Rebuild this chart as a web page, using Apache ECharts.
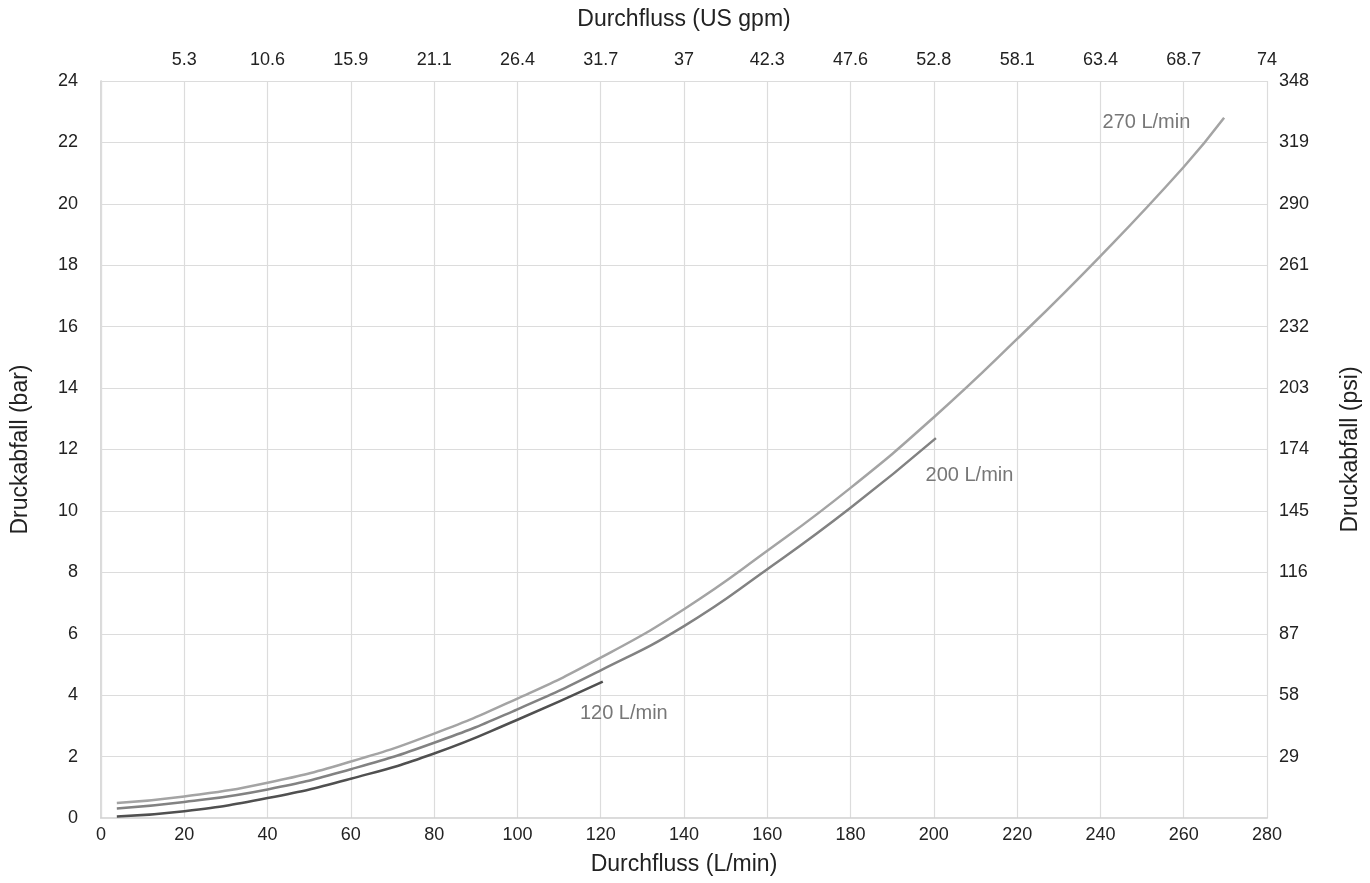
<!DOCTYPE html>
<html>
<head>
<meta charset="utf-8">
<script src="https://cdn.jsdelivr.net/npm/echarts@6/dist/echarts.min.js"></script>
<style>
  html, body { margin: 0; padding: 0; background: #fff; }
  #chart { width: 1370px; height: 883px; }
</style>
</head>
<body>
<div id="chart"></div>
<script>
// Druckabfall über Durchfluss, drei Baugrößen (120 / 200 / 270 L/min)

// Kurvenpunkte [L/min, bar]
const curve120 = [[3.8, 0.05], [20, 0.22], [40, 0.65], [60, 1.28], [80, 2.10], [100, 3.20], [120.5, 4.44]]
const curve200 = [[3.8, 0.31], [20, 0.52], [40, 0.93], [60, 1.59], [80, 2.45], [100, 3.54], [120, 4.81],
  [140, 6.25], [160, 8.10], [180, 10.10], [200.5, 12.37]]
const curve270 = [[3.8, 0.49], [20, 0.70], [40, 1.15], [60, 1.84], [80, 2.75], [100, 3.89], [120, 5.22],
  [140, 6.80], [160, 8.70], [180, 10.75], [200, 13.05], [220, 15.6], [240, 18.3], [260, 21.2], [269.7, 22.8]]

// Beschriftungen der Zweitachsen (Index = Tick-Nummer)
const gpmLabels = ['', '5.3', '10.6', '15.9', '21.1', '26.4', '31.7', '37', '42.3', '47.6', '52.8', '58.1', '63.4', '68.7', '74']
const psiLabels = ['', '29', '58', '87', '116', '145', '174', '203', '232', '261', '290', '319', '348']

const seriesNames = ['120 L/min', '200 L/min', '270 L/min']
// Position der Kurvenbeschriftung in Datenkoordinaten
const labelAt = [[115, 3.4], [198, 11.15], [240.5, 22.65]]

const FONT = '"Liberation Sans", Arial, sans-serif'
const GRID_COLOR = '#dcdcdc'
const AXIS_COLOR = '#cfcfcf'
const TEXT_COLOR = '#222'
const lineColors = ['#505050', '#828282', '#a4a4a4']

const chart = echarts.init(document.getElementById('chart'), null, { renderer: 'canvas' })

function curveSeries(i, data) {
  return {
    name: seriesNames[i],
    type: 'line',
    data: data,
    smooth: true,
    showSymbol: false,
    symbol: 'none',
    lineStyle: { color: lineColors[i], width: 2.5 },
    z: 3 + i,
    markPoint: {
      symbol: 'circle',
      symbolSize: 0,
      silent: true,
      data: [{
        coord: labelAt[i],
        label: {
          show: true,
          formatter: seriesNames[i],
          position: 'right',
          distance: 0,
          color: '#777',
          fontFamily: FONT,
          fontSize: 20,
        },
      }],
    },
  }
}

const axisNameStyle = { color: TEXT_COLOR, fontFamily: FONT, fontSize: 23 }
const tickStyle = { color: TEXT_COLOR, fontFamily: FONT, fontSize: 18 }

chart.setOption({
  backgroundColor: '#fff',
  animation: false,
  grid: { left: 101, right: 102, top: 81, bottom: 65 },
  xAxis: [
    {
      type: 'value', position: 'bottom', min: 0, max: 280, interval: 20,
      name: 'Durchfluss (L/min)', nameLocation: 'middle', nameGap: 35, nameTextStyle: axisNameStyle,
      axisLine: { show: true, lineStyle: { color: AXIS_COLOR, width: 1.5 } },
      axisTick: { show: false },
      axisLabel: { ...tickStyle, margin: 8 },
      splitLine: { show: true, lineStyle: { color: GRID_COLOR, width: 1.2 } },
    },
    {
      type: 'value', position: 'top', min: 0, max: 280, interval: 20,
      name: 'Durchfluss (US gpm)', nameLocation: 'middle', nameGap: 50, nameTextStyle: axisNameStyle,
      axisLine: { show: true, lineStyle: { color: GRID_COLOR, width: 1.2 } },
      axisTick: { show: false },
      axisLabel: { ...tickStyle, margin: 12, formatter: (v) => gpmLabels[Math.round(v / 20)] },
      splitLine: { show: false },
    },
  ],
  yAxis: [
    {
      type: 'value', position: 'left', min: 0, max: 24, interval: 2,
      name: 'Druckabfall (bar)', nameLocation: 'middle', nameGap: 69, nameRotate: 90, nameTextStyle: axisNameStyle,
      axisLine: { show: true, lineStyle: { color: AXIS_COLOR, width: 1.5 } },
      axisTick: { show: false },
      axisLabel: { ...tickStyle, margin: 23 },
      splitLine: { show: true, lineStyle: { color: GRID_COLOR, width: 1.2 } },
    },
    {
      type: 'value', position: 'right', min: 0, max: 24, interval: 2,
      name: 'Druckabfall (psi)', nameLocation: 'middle', nameGap: 72, nameRotate: 90, nameTextStyle: axisNameStyle,
      axisLine: { show: true, lineStyle: { color: GRID_COLOR, width: 1.2 } },
      axisTick: { show: false },
      axisLabel: { ...tickStyle, margin: 12, formatter: (v) => psiLabels[Math.round(v / 2)] },
      splitLine: { show: false },
    },
  ],
  series: [
    curveSeries(0, curve120),
    curveSeries(1, curve200),
    curveSeries(2, curve270),
  ],
})

window.addEventListener('resize', () => chart.resize())
</script>
</body>
</html>
